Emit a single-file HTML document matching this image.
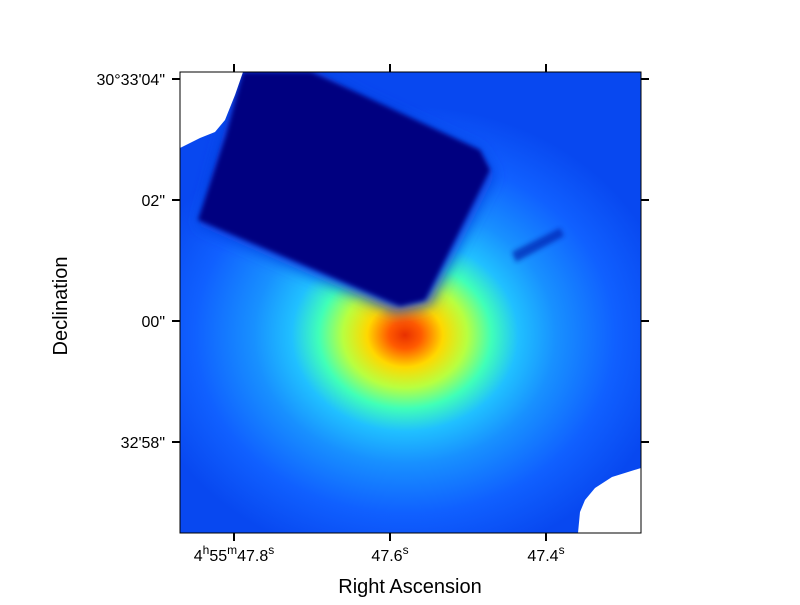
<!DOCTYPE html>
<html><head><meta charset="utf-8"><style>
body{margin:0;background:#fff;}
svg text{font-family:"Liberation Sans","DejaVu Sans",sans-serif;fill:#000;}
</style></head><body>
<svg id="chart" width="800" height="600" viewBox="0 0 800 600" xmlns="http://www.w3.org/2000/svg">
<defs>
<clipPath id="plotclip"><rect x="180" y="72" width="461" height="461"/></clipPath>
<radialGradient id="glow" cx="405" cy="335" r="270" gradientUnits="userSpaceOnUse" gradientTransform="translate(405 335) scale(1 0.85) translate(-405 -335)">
<stop offset="0" stop-color="#e83000"/>
<stop offset="0.06" stop-color="#ff5a00"/>
<stop offset="0.14" stop-color="#ffd800"/>
<stop offset="0.23" stop-color="#b8ff40"/>
<stop offset="0.32" stop-color="#40ffb8"/>
<stop offset="0.42" stop-color="#20c0ff"/>
<stop offset="0.56" stop-color="#1890ff"/>
<stop offset="0.78" stop-color="#1060ff"/>
<stop offset="1" stop-color="#0848f0"/>
</radialGradient>
<filter id="soft"><feGaussianBlur stdDeviation="2.5"/></filter>
<filter id="soft2"><feGaussianBlur stdDeviation="7"/></filter>
</defs>
<g clip-path="url(#plotclip)">
<rect x="180" y="72" width="461" height="461" fill="url(#glow)"/>
<polygon points="512,252 560,228 564,236 516,262" fill="#0020b0" opacity="0.7" filter="url(#soft)"/>
<polygon points="198,225 240,72 320,72 360,95 480,150 495,175 445,275 430,305 395,312" fill="#1040e0" filter="url(#soft2)"/>
<polygon points="198,220 226,135 243,72 311,72 358,93 480,150 490,170 440,270 425,300 400,306" fill="#000080" filter="url(#soft)"/>
<polygon points="180,72 243,72 235,95 225,120 215,132 200,138 180,148" fill="#fff"/>
<polygon points="641,468 612,477 595,488 585,500 580,512 578,533 641,533" fill="#fff"/>
</g>
<rect x="180" y="72" width="461" height="461" fill="none" stroke="#000" stroke-width="1"/>
<g id="axes"></g>
<text x="410" y="593" text-anchor="middle" font-size="20">Right Ascension</text>
<text transform="translate(67 306) rotate(-90)" text-anchor="middle" font-size="20">Declination</text>
</svg>
<script>
const xTickPos = [0.8, 0.6, 0.4];
const xTickLabels = ['4<tspan dy="-7" font-size="12">h</tspan><tspan dy="7">55</tspan><tspan dy="-7" font-size="12">m</tspan><tspan dy="7">47.8</tspan><tspan dy="-7" font-size="12">s</tspan>', '47.6<tspan dy="-7" font-size="12">s</tspan>', '47.4<tspan dy="-7" font-size="12">s</tspan>'];
const yTickPos = [4, 2, 0, -2];
const yTickLabels = ['30°33\'04"', '02"', '00"', '32\'58"'];
const x = v => 234 + (0.8 - v) / 0.2 * 156;
const y = v => 321 - v * 60.5;
const g = document.getElementById('axes');
const NS = 'http://www.w3.org/2000/svg';
xTickPos.forEach((v, i) => {
  const px = x(v);
  [[72, 64], [533, 541]].forEach(([a, b]) => {
    const l = document.createElementNS(NS, 'line');
    l.setAttribute('x1', px); l.setAttribute('x2', px); l.setAttribute('y1', a); l.setAttribute('y2', b);
    l.setAttribute('stroke', '#000'); l.setAttribute('stroke-width', '2');
    
    
    g.appendChild(l);
  });
  const t = document.createElementNS(NS, 'text');
  t.setAttribute('x', px); t.setAttribute('y', 561); t.setAttribute('text-anchor', 'middle'); t.setAttribute('font-size', '16');
  t.innerHTML = xTickLabels[i];
  
  
  g.appendChild(t);
});
yTickPos.forEach((v, i) => {
  const py = y(v);
  [[180, 172], [641, 649]].forEach(([a, b]) => {
    const l = document.createElementNS(NS, 'line');
    l.setAttribute('x1', a); l.setAttribute('x2', b); l.setAttribute('y1', py); l.setAttribute('y2', py);
    l.setAttribute('stroke', '#000'); l.setAttribute('stroke-width', '2');
    
    
    g.appendChild(l);
  });
  const t = document.createElementNS(NS, 'text');
  t.setAttribute('x', 165); t.setAttribute('y', py + 6); t.setAttribute('text-anchor', 'end'); t.setAttribute('font-size', '16');
  t.textContent = yTickLabels[i];
  
  
  g.appendChild(t);
});
</script>
</body></html>
